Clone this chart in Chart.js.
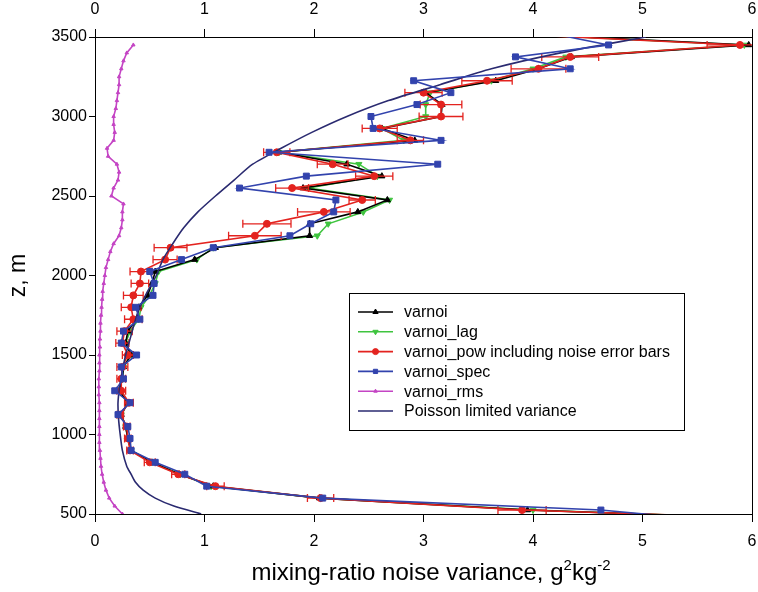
<!DOCTYPE html>
<html>
<head>
<meta charset="utf-8">
<script src="https://cdn.jsdelivr.net/npm/chart.js@4.4.0/dist/chart.umd.min.js"></script>
<style>
  html, body { margin: 0; padding: 0; background: #fff; }
  #wrap { position: relative; width: 758px; height: 592px; }
</style>
</head>
<body>
<div id="wrap"><canvas id="chart" width="758" height="592"></canvas></div>
<script>
// ---- data ----
// profile heights, 75 m steps (first and last lie just outside the axes)
const heights = [450, 525, 600, 675, 750, 825, 900, 975, 1050, 1125, 1200, 1275, 1350, 1425,
  1500, 1575, 1650, 1725, 1800, 1875, 1950, 2025, 2100, 2175, 2250, 2325, 2400, 2475,
  2550, 2625, 2700, 2775, 2850, 2925, 3000, 3075, 3150, 3225, 3300, 3375, 3450, 3525];

const varnoi = [7.0, 3.95, 2.05, 1.08, 0.77, 0.52, 0.33, 0.30, 0.28, 0.24, 0.30, 0.22, 0.25, 0.26,
  0.33, 0.28, 0.30, 0.38, 0.40, 0.48, 0.52, 0.55, 0.91, 1.10, 1.96, 1.96, 2.40, 2.67,
  1.90, 2.62, 2.30, 1.68, 2.92, 2.62, 3.16, 3.17, 3.02, 3.66, 4.05, 4.35, 5.97, 3.70];

const varnoiLag = [7.0, 4.00, 2.06, 1.06, 0.78, 0.52, 0.33, 0.30, 0.28, 0.24, 0.30, 0.22, 0.25, 0.26,
  0.33, 0.28, 0.32, 0.40, 0.42, 0.50, 0.55, 0.58, 0.93, 1.08, 2.03, 2.13, 2.45, 2.69,
  1.95, 2.58, 2.41, 1.68, 2.82, 2.62, 3.02, 3.02, 3.06, 3.62, 4.00, 4.30, 5.93, 3.65];

const varnoiPow = [7.2, 3.90, 2.06, 1.10, 0.76, 0.50, 0.32, 0.30, 0.29, 0.23, 0.31, 0.24, 0.24, 0.25,
  0.30, 0.25, 0.27, 0.35, 0.33, 0.35, 0.41, 0.42, 0.64, 0.69, 1.46, 1.57, 2.09, 2.44,
  1.80, 2.55, 2.17, 1.66, 2.88, 2.60, 3.16, 3.16, 3.00, 3.58, 4.05, 4.34, 5.89, 3.60];

// half width of the noise error bars on varnoi_pow
const varnoiPowErr = [0, 0.22, 0.12, 0.08, 0.06, 0.05, 0.03, 0.03, 0.03, 0.03, 0.04, 0.04, 0.04, 0.05,
  0.05, 0.06, 0.07, 0.08, 0.09, 0.09, 0.08, 0.10, 0.11, 0.15, 0.24, 0.22, 0.24, 0.12,
  0.15, 0.17, 0.14, 0.12, 0.12, 0.16, 0.20, 0.19, 0.17, 0.23, 0.25, 0.26, 0.30, 0];

const varnoiSpec = [5.80, 4.62, 2.08, 1.02, 0.82, 0.55, 0.33, 0.32, 0.30, 0.21, 0.32, 0.18, 0.26, 0.24,
  0.38, 0.24, 0.26, 0.41, 0.37, 0.53, 0.54, 0.50, 0.79, 1.08, 1.78, 1.97, 2.18, 2.20,
  1.32, 1.93, 3.13, 1.59, 3.16, 2.54, 2.52, 2.94, 3.25, 2.91, 4.34, 3.84, 4.69, 4.15];

// rms profile, 50 m steps
const rmsHeights = [500, 550, 600, 650, 700, 750, 800, 850, 900, 950, 1000, 1050, 1100, 1150,
  1200, 1250, 1300, 1350, 1400, 1450, 1500, 1550, 1600, 1650, 1700, 1750, 1800, 1850,
  1900, 1950, 2000, 2050, 2100, 2150, 2200, 2250, 2300, 2350, 2400, 2450, 2500, 2550,
  2600, 2650, 2700, 2750, 2800, 2850, 2900, 2950, 3000, 3050, 3100, 3150, 3200, 3250,
  3300, 3350, 3400, 3450];
const varnoiRms = [0.25, 0.18, 0.13, 0.10, 0.08, 0.065, 0.055, 0.05, 0.045, 0.04, 0.04, 0.04, 0.04, 0.04,
  0.04, 0.035, 0.035, 0.035, 0.04, 0.04, 0.04, 0.045, 0.045, 0.05, 0.05, 0.055, 0.06, 0.065,
  0.07, 0.08, 0.09, 0.10, 0.12, 0.14, 0.17, 0.22, 0.24, 0.25, 0.25, 0.26, 0.15, 0.17,
  0.21, 0.22, 0.20, 0.12, 0.11, 0.17, 0.18, 0.17, 0.17, 0.19, 0.20, 0.21, 0.22, 0.22,
  0.24, 0.26, 0.29, 0.35];

const poissonHeights = [500, 550, 600, 650, 700, 750, 800, 900, 1000, 1100, 1200, 1300, 1400, 1500,
  1600, 1700, 1800, 1900, 2000, 2100, 2200, 2300, 2400, 2500, 2600, 2700, 2800, 2900,
  3000, 3100, 3200, 3300, 3400, 3500];
const poisson = [0.97, 0.72, 0.55, 0.44, 0.37, 0.33, 0.29, 0.25, 0.23, 0.215, 0.21, 0.225, 0.25, 0.28,
  0.32, 0.36, 0.41, 0.48, 0.56, 0.62, 0.71, 0.81, 0.94, 1.10, 1.27, 1.44, 1.70, 1.98,
  2.30, 2.68, 3.15, 3.62, 4.25, 5.03];

const xTicks = [0, 1, 2, 3, 4, 5, 6];
const zTicks = [500, 1000, 1500, 2000, 2500, 3000, 3500];

// ---- styling ----
const FONT = "'Liberation Sans', Arial, Helvetica, sans-serif";
const C_BLACK = '#000000';
const C_GREEN = '#3fc43f';
const C_RED = '#e3231f';
const C_BLUE = '#3243ad';
const C_PINK = '#c444c4';
const C_NAVY = '#2a2a70';

const pts = (xs, zs) => xs.map((v, i) => ({ x: v, y: zs[i] }));
const setTicks = (list) => (s) => { s.ticks = list.map(v => ({ value: v })); };

// fixed box sizes so the plot area sits where it does in the figure
function fitTo(size) {
  return (s) => {
    if (s.isHorizontal()) { s.height = size; s.paddingLeft = 0; s.paddingRight = 0; }
    else { s.width = size; s.paddingTop = 0; s.paddingBottom = 0; }
  };
}

function axis(pos, list, size, extra) {
  const horiz = pos === 'top' || pos === 'bottom';
  return Object.assign({
    type: 'linear',
    position: pos,
    min: list[0],
    max: list[list.length - 1],
    afterBuildTicks: setTicks(list),
    afterFit: fitTo(size),
    ticks: { color: '#000', font: { family: FONT, size: 16 }, padding: horiz ? 10 : 2, maxRotation: 0,
      callback: v => String(v) },
    grid: { display: true, drawOnChartArea: false, drawTicks: true, tickLength: horiz ? 8 : 6, color: '#000', lineWidth: 1 },
    border: { display: true, color: '#000', width: 1 }
  }, extra);
}

const datasets = [
  { label: 'varnoi', data: pts(varnoi, heights), borderColor: C_BLACK, backgroundColor: C_BLACK,
    pointStyle: 'triangle', pointRadius: 3.5, order: 4 },
  { label: 'varnoi_lag', data: pts(varnoiLag, heights), borderColor: C_GREEN, backgroundColor: C_GREEN,
    pointStyle: 'triangle', rotation: 180, pointRadius: 3.5, order: 5 },
  { label: 'varnoi_pow including noise error bars', data: pts(varnoiPow, heights), borderColor: C_RED,
    backgroundColor: C_RED, pointStyle: 'circle', pointRadius: 3.5, order: 3, errBars: varnoiPowErr },
  { label: 'varnoi_spec', data: pts(varnoiSpec, heights), borderColor: C_BLUE, backgroundColor: C_BLUE,
    pointStyle: 'rect', pointRadius: 4.2, order: 1 },
  { label: 'varnoi_rms', data: pts(varnoiRms, rmsHeights), borderColor: C_PINK, backgroundColor: C_PINK,
    pointStyle: 'triangle', pointRadius: 2, order: 6 },
  { label: 'Poisson limited variance', data: pts(poisson, poissonHeights), borderColor: C_NAVY,
    backgroundColor: C_NAVY, pointRadius: 0, tension: 0.25, borderWidth: 1.6, order: 2 }
];
datasets.forEach(d => {
  d.showLine = true;
  d.clip = 0;
  if (d.borderWidth === undefined) d.borderWidth = 1.6;
  d.pointBorderWidth = 1;
});

// horizontal error bars with end caps, drawn together with their dataset
const errorBars = {
  id: 'errorBars',
  afterDatasetDraw(chart, args) {
    const ds = chart.data.datasets[args.index];
    if (!ds.errBars) return;
    const { ctx, chartArea: a } = chart;
    const xs = chart.scales.x, ys = chart.scales.y;
    ctx.save();
    ctx.beginPath();
    ctx.rect(a.left, a.top, a.right - a.left, a.bottom - a.top);
    ctx.clip();
    ctx.strokeStyle = ds.borderColor;
    ctx.lineWidth = 1.3;
    ds.data.forEach((p, i) => {
      const e = ds.errBars[i];
      if (!e) return;
      const x1 = xs.getPixelForValue(p.x - e), x2 = xs.getPixelForValue(p.x + e);
      const y = ys.getPixelForValue(p.y);
      ctx.beginPath();
      ctx.moveTo(x1, y); ctx.lineTo(x2, y);
      ctx.moveTo(x1, y - 4); ctx.lineTo(x1, y + 4);
      ctx.moveTo(x2, y - 4); ctx.lineTo(x2, y + 4);
      ctx.stroke();
    });
    ctx.restore();
  }
};

// legend box, axis titles
const overlay = {
  id: 'overlay',
  afterDraw(chart) {
    const ctx = chart.ctx;
    ctx.save();
    // legend
    const bx = 349.5, by = 293.5, bw = 335, bh = 137;
    ctx.fillStyle = '#fff';
    ctx.fillRect(bx, by, bw, bh);
    ctx.strokeStyle = '#000';
    ctx.lineWidth = 1;
    ctx.strokeRect(bx, by, bw, bh);
    ctx.font = '16px ' + FONT;
    ctx.textBaseline = 'middle';
    ctx.textAlign = 'left';
    chart.data.datasets.forEach((d, i) => {
      const y = 312 + i * 19.8;
      ctx.strokeStyle = d.borderColor;
      ctx.lineWidth = 1.6;
      ctx.beginPath();
      ctx.moveTo(358, y); ctx.lineTo(393, y);
      ctx.stroke();
      if (d.pointRadius > 0) {
        ctx.fillStyle = d.backgroundColor;
        ctx.lineWidth = 1;
        Chart.helpers.drawPoint(ctx, {
          pointStyle: d.pointStyle, radius: Math.min(d.pointRadius, 3), rotation: d.rotation || 0, borderWidth: 1
        }, 375.5, y);
      }
      ctx.fillStyle = '#000';
      ctx.fillText(d.label, 404, y + 1);
    });

    // x title with superscripts
    ctx.fillStyle = '#000';
    ctx.textBaseline = 'alphabetic';
    const big = '24px ' + FONT, small = '15px ' + FONT;
    const parts = [['mixing-ratio noise variance, g', big, 0], ['2', small, -10], ['kg', big, 0], ['-2', small, -10]];
    let total = 0;
    parts.forEach(p => { ctx.font = p[1]; total += ctx.measureText(p[0]).width; });
    let x = 431 - total / 2;
    const base = 580;
    parts.forEach(p => {
      ctx.font = p[1];
      ctx.fillText(p[0], x, base + p[2]);
      x += ctx.measureText(p[0]).width;
    });

    // y title
    ctx.translate(19, 275.5);
    ctx.rotate(-Math.PI / 2);
    ctx.font = '23px ' + FONT;
    ctx.textAlign = 'center';
    ctx.textBaseline = 'middle';
    ctx.fillText('z, m', 0, 0);
    ctx.restore();
  }
};

new Chart(document.getElementById('chart'), {
  type: 'scatter',
  data: { datasets },
  options: {
    responsive: false,
    animation: false,
    events: [],
    layout: { padding: 0 },
    elements: { line: { tension: 0 } },
    plugins: { legend: { display: false }, tooltip: { enabled: false } },
    scales: {
      x: axis('bottom', xTicks, 78),
      x2: axis('top', xTicks, 37),
      y: axis('left', zTicks, 95),
      y2: axis('right', zTicks, 6, {
        ticks: { display: false },
        grid: { display: false, drawTicks: false }
      })
    }
  },
  plugins: [errorBars, overlay]
});
</script>
</body>
</html>
